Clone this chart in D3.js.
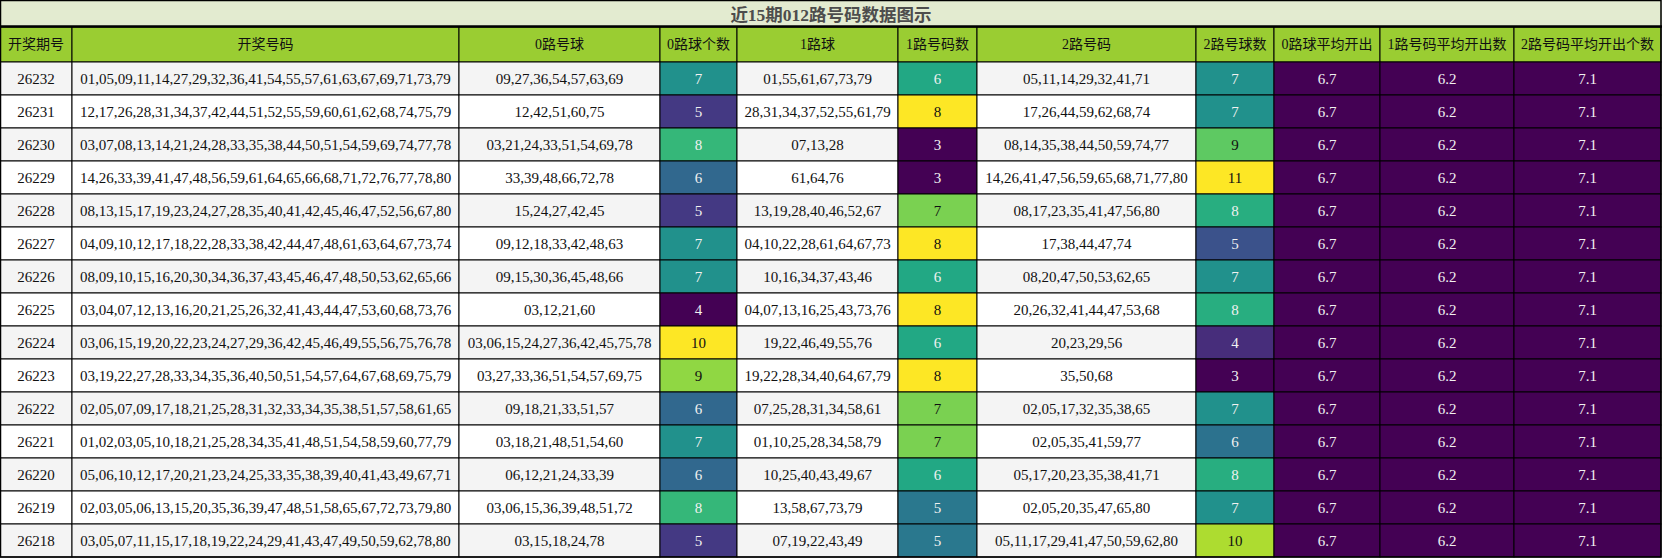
<!DOCTYPE html>
<html>
<head>
<meta charset="utf-8">
<script src="https://cdn.jsdelivr.net/npm/d3@7"></script>
<style>
  body { margin: 0; background: #fff; }
  text { font-family: "Liberation Serif", "Noto Sans CJK SC", serif; }
</style>
</head>
<body>
<div id="wrapper"></div>
<script>
// ---- data ----
const title = "近15期012路号码数据图示"
const headers = ["开奖期号", "开奖号码", "0路号球", "0路球个数", "1路球", "1路号码数",
    "2路号码", "2路号球数", "0路球平均开出", "1路号码平均开出数", "2路号码平均开出个数"]
const issues = ["26232", "26231", "26230", "26229", "26228", "26227", "26226", "26225",
    "26224", "26223", "26222", "26221", "26220", "26219", "26218"]
const draws = [
    "01,05,09,11,14,27,29,32,36,41,54,55,57,61,63,67,69,71,73,79",
    "12,17,26,28,31,34,37,42,44,51,52,55,59,60,61,62,68,74,75,79",
    "03,07,08,13,14,21,24,28,33,35,38,44,50,51,54,59,69,74,77,78",
    "14,26,33,39,41,47,48,56,59,61,64,65,66,68,71,72,76,77,78,80",
    "08,13,15,17,19,23,24,27,28,35,40,41,42,45,46,47,52,56,67,80",
    "04,09,10,12,17,18,22,28,33,38,42,44,47,48,61,63,64,67,73,74",
    "08,09,10,15,16,20,30,34,36,37,43,45,46,47,48,50,53,62,65,66",
    "03,04,07,12,13,16,20,21,25,26,32,41,43,44,47,53,60,68,73,76",
    "03,06,15,19,20,22,23,24,27,29,36,42,45,46,49,55,56,75,76,78",
    "03,19,22,27,28,33,34,35,36,40,50,51,54,57,64,67,68,69,75,79",
    "02,05,07,09,17,18,21,25,28,31,32,33,34,35,38,51,57,58,61,65",
    "01,02,03,05,10,18,21,25,28,34,35,41,48,51,54,58,59,60,77,79",
    "05,06,10,12,17,20,21,23,24,25,33,35,38,39,40,41,43,49,67,71",
    "02,03,05,06,13,15,20,35,36,39,47,48,51,58,65,67,72,73,79,80",
    "03,05,07,11,15,17,18,19,22,24,29,41,43,47,49,50,59,62,78,80"
]
const route0 = ["09,27,36,54,57,63,69", "12,42,51,60,75", "03,21,24,33,51,54,69,78",
    "33,39,48,66,72,78", "15,24,27,42,45", "09,12,18,33,42,48,63", "09,15,30,36,45,48,66",
    "03,12,21,60", "03,06,15,24,27,36,42,45,75,78", "03,27,33,36,51,54,57,69,75",
    "09,18,21,33,51,57", "03,18,21,48,51,54,60", "06,12,21,24,33,39",
    "03,06,15,36,39,48,51,72", "03,15,18,24,78"]
const route1 = ["01,55,61,67,73,79", "28,31,34,37,52,55,61,79", "07,13,28", "61,64,76",
    "13,19,28,40,46,52,67", "04,10,22,28,61,64,67,73", "10,16,34,37,43,46",
    "04,07,13,16,25,43,73,76", "19,22,46,49,55,76", "19,22,28,34,40,64,67,79",
    "07,25,28,31,34,58,61", "01,10,25,28,34,58,79", "10,25,40,43,49,67",
    "13,58,67,73,79", "07,19,22,43,49"]
const route2 = ["05,11,14,29,32,41,71", "17,26,44,59,62,68,74", "08,14,35,38,44,50,59,74,77",
    "14,26,41,47,56,59,65,68,71,77,80", "08,17,23,35,41,47,56,80", "17,38,44,47,74",
    "08,20,47,50,53,62,65", "20,26,32,41,44,47,53,68", "20,23,29,56", "35,50,68",
    "02,05,17,32,35,38,65", "02,05,35,41,59,77", "05,17,20,23,35,38,41,71",
    "02,05,20,35,47,65,80", "05,11,17,29,41,47,50,59,62,80"]
const count0 = [7, 5, 8, 6, 5, 7, 7, 4, 10, 9, 6, 7, 6, 8, 5]
const count1 = [6, 8, 3, 3, 7, 8, 6, 8, 6, 8, 7, 7, 6, 5, 5]
const count2 = [7, 7, 9, 11, 8, 5, 7, 8, 4, 3, 7, 6, 8, 7, 10]
const avg0 = 6.7
const avg1 = 6.2
const avg2 = 7.1

// ---- layout ----
const width = 1662, height = 558
const titleH = 27, headH = 35, rowH = 33
const colW = [72, 387, 201, 77, 161, 79, 219, 78, 106, 134, 147]

const columns = [
    {vals: issues}, {vals: draws}, {vals: route0},
    {vals: count0, color: true}, {vals: route1},
    {vals: count1, color: true}, {vals: route2},
    {vals: count2, color: true},
    {vals: issues.map(() => avg0), color: true, fmt: d3.format(".1f")},
    {vals: issues.map(() => avg1), color: true, fmt: d3.format(".1f")},
    {vals: issues.map(() => avg2), color: true, fmt: d3.format(".1f")}
]

const colStart = d3.cumsum([0].concat(colW))
const x = d3.scaleOrdinal().domain(d3.range(columns.length)).range(colStart)
const y = d3.scaleBand().domain(issues)
    .range([titleH + headH, titleH + headH + rowH * issues.length])

const svg = d3.select("#wrapper").append("svg")
    .attr("width", width).attr("height", height)

// title bar
svg.append("rect")
    .attr("x", 0).attr("y", 0).attr("width", width).attr("height", titleH)
    .attr("fill", "#e3ebd0")
svg.append("text")
    .attr("x", width / 2).attr("y", titleH / 2 + 1)
    .attr("text-anchor", "middle").attr("dominant-baseline", "central")
    .style("font-size", "17.5px").style("font-weight", "bold").style("fill", "#4d4d4d")
    .text(title)

// header
const head = svg.append("g")
head.selectAll("rect").data(headers).enter().append("rect")
    .attr("x", (d, i) => x(i)).attr("y", titleH)
    .attr("width", (d, i) => colW[i]).attr("height", headH)
    .attr("fill", "#9acd32").attr("stroke", "#000").attr("stroke-width", 1)
head.selectAll("text").data(headers).enter().append("text")
    .attr("x", (d, i) => x(i) + colW[i] / 2).attr("y", titleH + headH / 2)
    .attr("text-anchor", "middle").attr("dominant-baseline", "central")
    .style("font-size", "14px").style("fill", "#111")
    .text(d => d)

function luminance(c) {
    const rgb = d3.rgb(c)
    const f = v => { v /= 255; return v <= 0.03928 ? v / 12.92 : Math.pow((v + 0.055) / 1.055, 2.4) }
    return 0.2126 * f(rgb.r) + 0.7152 * f(rgb.g) + 0.0722 * f(rgb.b)
}

// body cells
columns.forEach((col, ci) => {
    let color = null
    if (col.color) {
        const ext = d3.extent(col.vals)
        const sc = d3.scaleSequential(d3.interpolateViridis).domain(ext)
        color = v => ext[0] === ext[1] ? d3.interpolateViridis(0) : sc(v)
    }
    const g = svg.append("g")
    const cells = g.selectAll("g").data(col.vals).enter().append("g")
        .attr("transform", (d, ri) => "translate(" + x(ci) + "," + y(issues[ri]) + ")")
    cells.append("rect")
        .attr("width", colW[ci]).attr("height", y.bandwidth())
        .attr("fill", (d, ri) => color ? color(d) : (ri % 2 === 0 ? "#f4f4f4" : "#ffffff"))
        .attr("stroke", "#000").attr("stroke-width", 1)
    cells.append("text")
        .attr("x", colW[ci] / 2).attr("y", y.bandwidth() / 2)
        .attr("text-anchor", "middle").attr("dominant-baseline", "central")
        .style("font-size", "15px")
        .style("fill", d => color && luminance(color(d)) < 0.408 ? "#f1f1f1" : "#111")
        .text(d => col.fmt ? col.fmt(d) : d)
})

// outer frame and thick line under title
svg.append("rect")
    .attr("x", 0.5).attr("y", 0.5).attr("width", width - 1.5).attr("height", height - 1.5)
    .attr("fill", "none").attr("stroke", "#000").attr("stroke-width", 1.5)
svg.append("line")
    .attr("x1", 0).attr("x2", width).attr("y1", titleH - 0.5).attr("y2", titleH - 0.5)
    .attr("stroke", "#000").attr("stroke-width", 2.5)
</script>
</body>
</html>
